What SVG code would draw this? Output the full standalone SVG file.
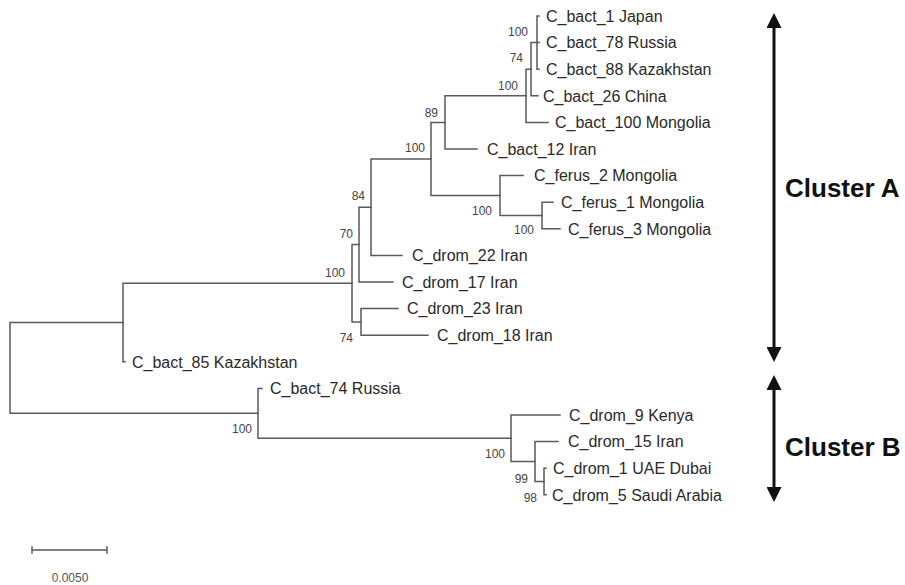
<svg xmlns="http://www.w3.org/2000/svg" width="905" height="585" viewBox="0 0 905 585">
<style>
.br{fill:none;stroke:#5a5a5a;stroke-width:1.5;stroke-linecap:square}
.lf{font-family:"Liberation Sans",Arial,sans-serif;font-size:16px;fill:#2a2a2a}
.bs{font-family:"Liberation Sans",Arial,sans-serif;font-size:12px;fill:#444;text-anchor:end}
.cl{font-family:"Liberation Sans",Arial,sans-serif;font-size:26px;font-weight:bold;fill:#111}
.ar{stroke:#111;stroke-width:3;fill:none}
</style>
<defs>
<marker id="head" viewBox="0 0 15 15" refX="10" refY="7.5" markerWidth="15" markerHeight="15" markerUnits="userSpaceOnUse" orient="auto-start-reverse">
<path d="M0,0 L15,7.5 L0,15 Z" fill="#111"/>
</marker>
</defs>
<rect width="905" height="585" fill="#fff"/>
<g id="connectors" class="br">
<path d="M537,16 V69.2 M537,16 H539 M537,42.6 H539 M537,69.2 H539"/>
<path d="M531,42.6 H537 M531,42.6 V95.8 M531,95.8 H538"/>
<path d="M526,69.2 H531 M526,69.2 V122.4 M526,122.4 H548"/>
<path d="M445,95.8 H526 M445,95.8 V149 M445,149 H477"/>
<path d="M542,202.2 V228.8 M542,202.2 H553 M542,228.8 H560"/>
<path d="M500,175.6 V215.5 M500,175.6 H523 M500,215.5 H542"/>
<path d="M431,122.4 H445 M431,122.4 V195.5 M431,195.5 H500"/>
<path d="M371,159 H431 M371,159 V255.4 M371,255.4 H402"/>
<path d="M359,207.2 H371 M359,207.2 V282 M359,282 H393"/>
<path d="M361,308.6 V335.2 M361,308.6 H398 M361,335.2 H428"/>
<path d="M352,244.6 H359 M352,244.6 V322 M352,322 H361"/>
<path d="M123,283.3 H352 M123,283.3 V361.8 M123,361.8 H125"/>
<path d="M10,322.5 H123 M10,322.5 V413.3 M10,413.3 H258"/>
<path d="M544,468.2 V494.8 M544,468.2 H546 M544,494.8 H546"/>
<path d="M535,441.6 V481.5 M535,441.6 H558 M535,481.5 H544"/>
<path d="M511,415 V461.5 M511,415 H560 M511,461.5 H535"/>
<path d="M258,388.4 V438.3 M258,388.4 H262 M258,438.3 H511"/>
</g>
<g id="leaves">
<g id="n_bact1"><text class="lf" x="546" y="21.8">C_bact_1 Japan</text></g>
<g id="n_bact78"><text class="lf" x="546" y="48.4">C_bact_78 Russia</text></g>
<g id="n_bact88"><text class="lf" x="546" y="75">C_bact_88 Kazakhstan</text></g>
<g id="n_bact26"><text class="lf" x="543" y="101.6">C_bact_26 China</text></g>
<g id="n_bact100"><text class="lf" x="555" y="128.2">C_bact_100 Mongolia</text></g>
<g id="n_bact12"><text class="lf" x="487" y="154.8">C_bact_12 Iran</text></g>
<g id="n_ferus2"><text class="lf" x="534" y="181.4">C_ferus_2 Mongolia</text></g>
<g id="n_ferus1"><text class="lf" x="561" y="208">C_ferus_1 Mongolia</text></g>
<g id="n_ferus3"><text class="lf" x="568" y="234.6">C_ferus_3 Mongolia</text></g>
<g id="n_drom22"><text class="lf" x="412" y="261.2">C_drom_22 Iran</text></g>
<g id="n_drom17"><text class="lf" x="402" y="287.8">C_drom_17 Iran</text></g>
<g id="n_drom23"><text class="lf" x="407" y="314.4">C_drom_23 Iran</text></g>
<g id="n_drom18"><text class="lf" x="437" y="341">C_drom_18 Iran</text></g>
<g id="n_bact85"><text class="lf" x="132" y="367.6">C_bact_85 Kazakhstan</text></g>
<g id="n_bact74"><text class="lf" x="270" y="394.2">C_bact_74 Russia</text></g>
<g id="n_drom9"><text class="lf" x="569" y="420.8">C_drom_9 Kenya</text></g>
<g id="n_drom15"><text class="lf" x="568" y="447.4">C_drom_15 Iran</text></g>
<g id="n_drom1"><text class="lf" x="553" y="474">C_drom_1 UAE Dubai</text></g>
<g id="n_drom5"><text class="lf" x="552" y="500.6">C_drom_5 Saudi Arabia</text></g>
</g>
<g id="support">
<text class="bs" x="528" y="36">100</text>
<text class="bs" x="523" y="62">74</text>
<text class="bs" x="518" y="90">100</text>
<text class="bs" x="438" y="117">89</text>
<text class="bs" x="425" y="152">100</text>
<text class="bs" x="492" y="215">100</text>
<text class="bs" x="534" y="234">100</text>
<text class="bs" x="365" y="200">84</text>
<text class="bs" x="353" y="238">70</text>
<text class="bs" x="345" y="277">100</text>
<text class="bs" x="353" y="342">74</text>
<text class="bs" x="252" y="433">100</text>
<text class="bs" x="505" y="458">100</text>
<text class="bs" x="528" y="483">99</text>
<text class="bs" x="537" y="502">98</text>
</g>
<g id="clusterA">
<line class="ar" x1="774" y1="18" x2="774" y2="357" marker-start="url(#head)" marker-end="url(#head)"/>
<text class="cl" x="785" y="197">Cluster A</text>
</g>
<g id="clusterB">
<line class="ar" x1="774" y1="380" x2="774" y2="497" marker-start="url(#head)" marker-end="url(#head)"/>
<text class="cl" x="785" y="456">Cluster B</text>
</g>
<g id="scale">
<path class="br" d="M32,550 H107 M32,547 V553 M107,547 V553"/>
<text x="70" y="582" font-family="Liberation Sans, Arial, sans-serif" font-size="12" fill="#555" text-anchor="middle">0.0050</text>
</g>
</svg>
